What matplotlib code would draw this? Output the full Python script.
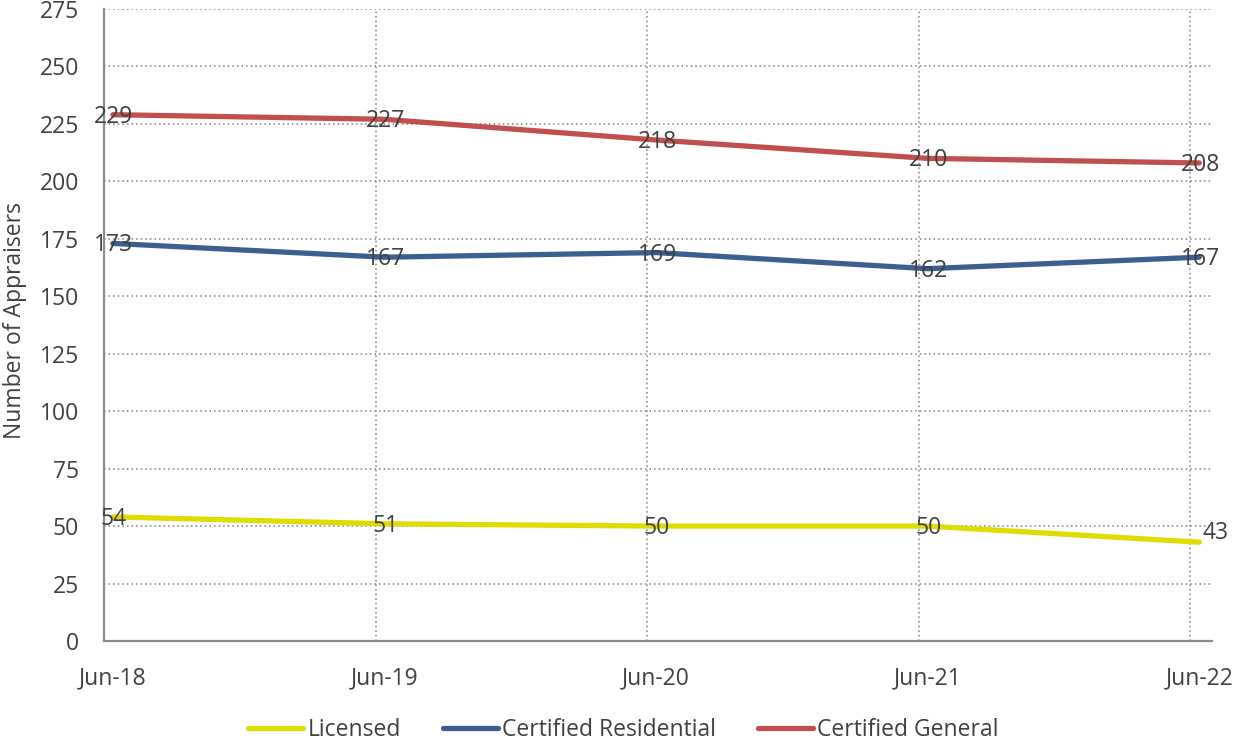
import matplotlib
matplotlib.use("Agg")
import matplotlib.pyplot as plt
import numpy as np

categories = ["Jun-18", "Jun-19", "Jun-20", "Jun-21", "Jun-22"]
licensed = [54, 51, 50, 50, 43]
cert_res = [173, 167, 169, 162, 167]
cert_gen = [229, 227, 218, 210, 208]

series = [
    ("Licensed", licensed, "#DEDC00"),
    ("Certified Residential", cert_res, "#3B6090"),
    ("Certified General", cert_gen, "#C0504D"),
]

plt.rcParams['font.family'] = ['Open Sans', 'DejaVu Sans']
txt = "#404040"
fs = 16.5

fig = plt.figure(figsize=(12.36, 7.42), dpi=100)
ax = fig.add_axes([0.0841, 0.1361, 0.8965, 0.8518])

ticks = np.arange(len(categories))
xpos = ticks + 0.033

for name, vals, col in series:
    ax.plot(xpos, vals, color=col, lw=3.8, solid_capstyle='round', label=name, zorder=3)
    for i, v in enumerate(vals):
        dx, dy = 1, -2
        if name == "Licensed" and i == len(vals) - 1:
            dx, dy = 16, 9
        ax.annotate(str(v), (xpos[i], v), xytext=(dx, dy), textcoords='offset pixels',
                    ha='center', va='center', fontsize=fs, color=txt, zorder=4)

ax.set_xlim(0, 4.08)
ax.set_ylim(0, 275)
ax.set_yticks(np.arange(0, 276, 25))
ax.set_xticks(xpos)
ax.set_xticklabels(categories)
ax.set_xticks(ticks[1:], minor=True)
ax.tick_params(axis='both', which='both', length=0, labelsize=fs, labelcolor=txt)
ax.tick_params(axis='x', pad=18)
ax.tick_params(axis='y', pad=18)

ax.grid(False, axis='x', which='major')
ax.grid(True, axis='x', which='minor', linestyle=(0, (1, 2)), color='#808080', lw=1.1)
ax.grid(True, axis='y', which='major', linestyle=(0, (1, 2)), color='#808080', lw=1.1)
ax.set_axisbelow(True)
for s in ['top', 'right']:
    ax.spines[s].set_visible(False)
for s in ['left', 'bottom']:
    ax.spines[s].set_color('#8c8c8c')
    ax.spines[s].set_linewidth(1.6)

fig.text(15 / 1236, 0.568, "Number of Appraisers", rotation=90, ha='center', va='center',
         fontsize=fs, color=txt)

leg = fig.legend(loc='center', bbox_to_anchor=(0.5045, 0.0155), ncol=3, frameon=False,
                 fontsize=fs, handlelength=2.4, handletextpad=0.2, columnspacing=1.8,
                 labelcolor=txt, borderaxespad=0, borderpad=0)

fig.savefig("out.png", dpi=100)
